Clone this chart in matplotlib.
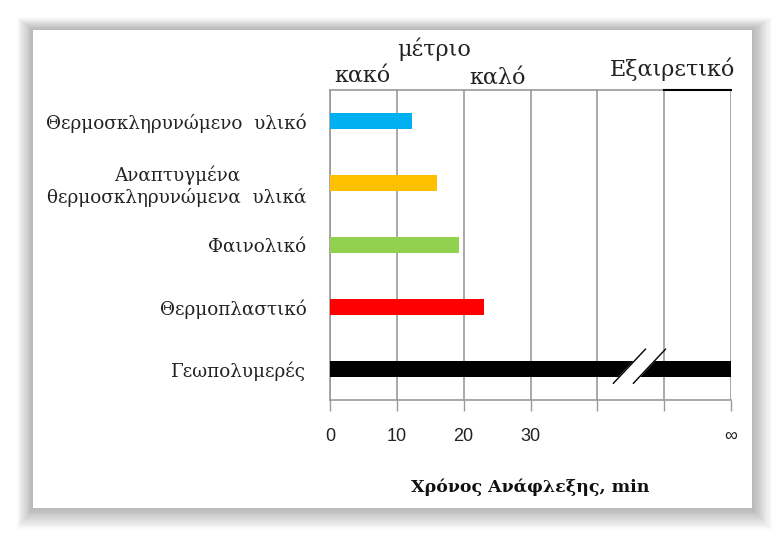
import matplotlib.pyplot as plt
from matplotlib.patches import Rectangle
from matplotlib.transforms import blended_transform_factory

materials = ['Θερμοσκληρυνώμενο  υλικό', 'Αναπτυγμένα\nθερμοσκληρυνώμενα  υλικά',
             'Φαινολικό', 'Θερμοπλαστικό', 'Γεωπολυμερές']
ignition_min = [12.3, 16, 19.3, 23, 60]
bar_colors = ['#00B0F0', '#FFC000', '#92D050', '#FF0000', '#000000']

tick_pos = [0, 10, 20, 30, 40, 50, 60]
tick_labels = ['0', '10', '20', '30', '', '', '∞']

quality = ['κακό', 'μέτριο', 'καλό', 'Εξαιρετικό']
quality_x = [4.8, 15.6, 25.0, 51.2]
quality_y = [1.01, 1.095, 1.005, 1.03]

break_x = 42.4  # where the "infinite" bar is cut

fig = plt.figure(figsize=(7.79, 5.39), dpi=100)
fig.patch.set_facecolor('white')

# soft shadow round the white panel
W, H = 779, 539
px, py, pw, ph = 33, 539 - 508, 719, 478
for i in range(18, 0, -1):
    fig.patches.append(Rectangle(((px - i * 0.9) / W, (py - i * 1.2) / H),
                                 (pw + i * 2.0) / W, (ph + i * 1.9) / H,
                                 transform=fig.transFigure, color='black',
                                 alpha=0.016, lw=0, zorder=0))
fig.patches.append(Rectangle((px / W, py / H), pw / W, ph / H, transform=fig.transFigure,
                             color='white', lw=0, zorder=1))

ax = fig.add_axes([330 / W, 1 - 400 / H, 401 / W, 310 / H])
ax.set_zorder(2)
ax.patch.set_alpha(0)

ypos = list(range(len(materials)))
bar_h = 0.26
ax.barh(ypos, ignition_min, height=bar_h, color=bar_colors, zorder=3)

ax.set_xlim(0, 60)
ax.set_ylim(len(materials) - 0.5, -0.5)
ax.set_xticks(tick_pos)
ax.set_xticklabels(tick_labels, fontsize=13, family='Liberation Sans', color='#222222')
ax.set_yticks(ypos)
ax.set_yticklabels(materials, fontsize=13.2, family='DejaVu Serif', color='#222222',
                   multialignment='center')
ax.tick_params(axis='y', length=0, pad=17)
ax.tick_params(axis='x', length=8, width=1, color='#999999', pad=12)
ax.grid(axis='x', color='#999999', lw=1.2, zorder=1)

for s in ['left', 'right', 'top', 'bottom']:
    ax.spines[s].set_color('#999999')
    ax.spines[s].set_linewidth(1.2)
ax.spines['right'].set_visible(False)
ax.plot([50, 60], [-0.5, -0.5], color='black', lw=1.5, clip_on=False, zorder=4)

# break marks on the last bar
yb = len(materials) - 1
gap, run = 3.0, 4.8
y0, y1 = yb + 0.23, yb - 0.32


def slash_x(y, off):
    return break_x + off + run * (y0 - y) / (y0 - y1)


lo, hi = yb + bar_h / 2 + 0.01, yb - bar_h / 2 - 0.01
ax.fill([slash_x(lo, 0), slash_x(hi, 0), slash_x(hi, gap), slash_x(lo, gap)],
        [lo, hi, hi, lo], color='white', zorder=4)
for off in [0, gap]:
    ax.plot([slash_x(y0, off), slash_x(y1, off)], [y0, y1], color='black', lw=1, zorder=5)

tr = blended_transform_factory(ax.transData, ax.transAxes)
for lab, x, y in zip(quality, quality_x, quality_y):
    ax.text(x, y, lab, transform=tr, ha='center', va='bottom', fontsize=16,
            family='DejaVu Serif', color='#222222')

ax.set_xlabel('Χρόνος Ανάφλεξης, min', fontsize=12.5, family='DejaVu Serif',
              fontweight='bold', labelpad=24, color='#111111')

fig.savefig('out.png', dpi=100)
